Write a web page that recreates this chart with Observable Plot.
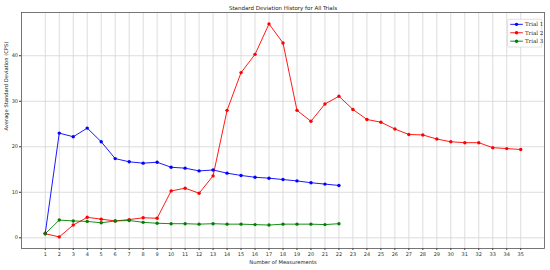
<!DOCTYPE html>
<html>
<head>
<meta charset="utf-8">
<script src="https://cdn.jsdelivr.net/npm/d3@7"></script>
<script src="https://cdn.jsdelivr.net/npm/@observablehq/plot@0.6"></script>
<style>
  html, body { margin: 0; padding: 0; background: #fff; }
</style>
</head>
<body>
<div id="chart"></div>
<script>
const title = "Standard Deviation History for All Trials";
const xLabel = "Number of Measurements";
const yLabel = "Average Standard Deviation (CPS)";
const seriesNames = ["Trial 1", "Trial 2", "Trial 3"];
const seriesColors = ["blue", "red", "green"];

const trial1 = [1.0, 23.0, 22.2, 24.1, 21.1, 17.4, 16.7, 16.4, 16.6, 15.5, 15.3, 14.7, 14.9, 14.2, 13.7, 13.3, 13.1, 12.8, 12.5, 12.1, 11.8, 11.5];
const trial2 = [0.9, 0.2, 2.8, 4.5, 4.1, 3.7, 4.0, 4.4, 4.3, 10.3, 10.9, 9.8, 13.6, 28.0, 36.3, 40.3, 47.0, 42.8, 28.0, 25.6, 29.4, 31.1, 28.2, 26.0, 25.4, 23.9, 22.7, 22.6, 21.7, 21.1, 20.9, 20.9, 19.8, 19.6, 19.4];
const trial3 = [0.9, 3.9, 3.7, 3.6, 3.3, 3.7, 3.8, 3.4, 3.2, 3.1, 3.1, 3.0, 3.1, 3.0, 3.0, 2.9, 2.8, 3.0, 3.0, 3.0, 2.9, 3.1];
const xTicks = d3.range(1, 36);
const yTicks = [0, 10, 20, 30, 40];

const allSeries = [trial1, trial2, trial3];
const data = allSeries.flatMap((vals, i) => vals.map((v, j) => ({x: j + 1, y: v, s: seriesNames[i]})));

const colorScale = {domain: seriesNames, range: seriesColors};

const legendEntries = seriesNames.map((n, i) => ({name: n, color: seriesColors[i], i}));

const chart = Plot.plot({
  width: 550,
  height: 270,
  marginLeft: 21,
  marginRight: 6,
  marginTop: 12,
  marginBottom: 22,
  style: {fontFamily: "DejaVu Sans, sans-serif", fontSize: "5px", background: "#fff"},
  x: {domain: [-0.7, 36.7], label: null},
  y: {domain: [-2.35, 49.5], label: null},
  color: colorScale,
  marks: [
    Plot.ruleX(xTicks, {stroke: "#d4d4d4", strokeWidth: 0.8}),
    Plot.ruleY(yTicks, {stroke: "#d4d4d4", strokeWidth: 0.8}),
    Plot.axisX({ticks: xTicks, tickSize: 2, tickPadding: 1.5, stroke: "#333", fill: "#333", fontSize: 5, label: null, tickFormat: d => d}),
    Plot.axisY({ticks: yTicks, tickSize: 2, tickPadding: 1.5, stroke: "#333", fill: "#333", fontSize: 5, label: null}),
    Plot.line(data, {x: "x", y: "y", z: "s", stroke: "s", strokeWidth: 0.9}),
    Plot.dot(data, {x: "x", y: "y", fill: "s", r: 1.7}),
    Plot.frame({stroke: "#555", strokeWidth: 0.8}),
    Plot.text([title], {frameAnchor: "top", dy: -6, fontSize: 5.5, fill: "#222"}),
    Plot.text([xLabel], {frameAnchor: "bottom", dy: 15, fontSize: 5.2, fill: "#222"}),
    Plot.text([yLabel], {frameAnchor: "left", dx: -15, rotate: -90, fontSize: 5.2, fill: "#222"}),
    // legend box
    Plot.rect([0], {x1: () => 34.1, x2: () => 36.55, y1: () => 47.9, y2: () => 41.8, fill: "white", fillOpacity: 0.85, stroke: "#ccc", strokeWidth: 0.6, rx: 1}),
    Plot.link(legendEntries, {x1: () => 34.25, x2: () => 35.15, y1: d => 46.9 - d.i * 1.85, y2: d => 46.9 - d.i * 1.85, stroke: "color", strokeWidth: 0.9}),
    Plot.dot(legendEntries, {x: () => 34.7, y: d => 46.9 - d.i * 1.85, fill: "color", r: 1.7}),
    Plot.text(legendEntries, {x: () => 35.3, y: d => 46.9 - d.i * 1.85, text: "name", textAnchor: "start", fontSize: 5.5, fontFamily: "DejaVu Serif, serif", fill: "#222"})
  ]
});
document.getElementById("chart").appendChild(chart);
</script>
</body>
</html>
